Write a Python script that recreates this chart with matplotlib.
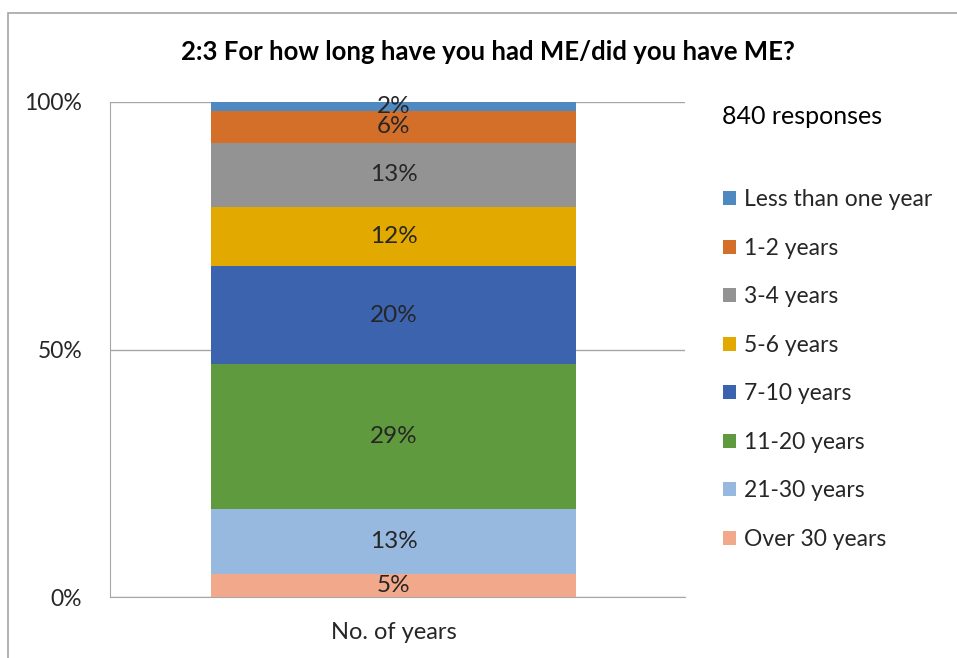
import matplotlib.pyplot as plt
import matplotlib.patches as mpatches
import numpy as np

plt.rcParams['font.family'] = ['Lato', 'DejaVu Sans']

# legend order (top of the stack first)
categories = ['Less than one year', '1-2 years', '3-4 years', '5-6 years',
              '7-10 years', '11-20 years', '21-30 years', 'Over 30 years']
counts = np.array([15, 54, 109, 101, 165, 246, 111, 39])
colors = ['#4E89C1', '#D46F2A', '#939393', '#E2A900',
          '#3C64AE', '#5F9A3E', '#98B9DF', '#F1A88B']
bar_label = 'No. of years'
total_responses = 840

shares = counts / counts.sum() * 100

fig = plt.figure(figsize=(9.57, 6.58), dpi=100)
ax = fig.add_axes([110/957, 1 - 597/658, 575/957, 495/658])

# outer chart border (runs off the right and bottom edges)
fig.patches.append(mpatches.Rectangle((8/957, -0.05), 1.1, 1.05 - 13/658,
                                      transform=fig.transFigure,
                                      fill=False, edgecolor='#A6A6A6',
                                      linewidth=1.2))

bottom = 0
handles = {}
for i in range(len(categories) - 1, -1, -1):
    b = ax.bar(0, shares[i], bottom=bottom, width=0.635, color=colors[i],
               zorder=3)
    handles[categories[i]] = b
    ax.text(0, bottom + shares[i] / 2, f"{round(shares[i]):.0f}%",
            ha='center', va='center', fontsize=17.5, color='#262626',
            zorder=4)
    bottom += shares[i]

ax.set_xlim(-0.493, 0.507)
ax.set_ylim(0, 100)
ax.set_yticks([0, 50, 100])
ax.set_yticklabels(['0%', '50%', '100%'], fontsize=16.5, color='#262626')
ax.set_xticks([0])
ax.set_xticklabels([bar_label], fontsize=17, color='#262626')
ax.tick_params(axis='both', length=0)
ax.tick_params(axis='y', pad=20)
ax.tick_params(axis='x', pad=18)
ax.grid(axis='y', color='#A6A6A6', linewidth=1, zorder=0)
for s in ['top', 'right']:
    ax.spines[s].set_visible(False)
for s in ['left', 'bottom']:
    ax.spines[s].set_color('#A6A6A6')

fig.text(488/957, 1 - 52/658, '2:3 For how long have you had ME/did you have ME?',
         ha='center', va='center', fontsize=18.5, fontweight='bold',
         color='#000000')
fig.text(722/957, 1 - 116/658, f'{total_responses} responses',
         ha='left', va='center', fontsize=18, color='#000000')

leg = fig.legend([handles[c] for c in categories], categories,
                 loc='upper left', bbox_to_anchor=(714/957, 1 - 180/658),
                 frameon=False, fontsize=16.5, handlelength=0.57,
                 handleheight=0.57, handletextpad=0.35, labelspacing=1.2,
                 borderaxespad=0)
for t in leg.get_texts():
    t.set_color('#262626')

fig.savefig('out.png', dpi=100)
